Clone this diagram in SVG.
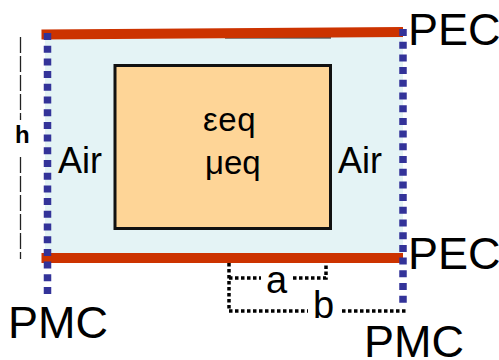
<svg xmlns="http://www.w3.org/2000/svg" width="499" height="360" viewBox="0 0 499 360">
<style>
text{font-family:"Liberation Sans",Arial,sans-serif;fill:#000}
.big{font-size:45px}
.mid{font-size:38px}
.air{font-size:36px}
.eq{font-size:33px}
.pec{stroke:#cc3300;stroke-width:10;fill:none}
.pmc{stroke:#333399;stroke-width:7.5;stroke-dasharray:7 5.7;fill:none}
.dim{stroke:#000;stroke-width:3.5;stroke-dasharray:3.5 2.5;fill:none}
.ref{stroke:#222;stroke-width:1.300;stroke-dasharray:16 3;fill:none}
</style>
<g id="air-region"><rect x="45" y="35" width="358" height="223" fill="#e4f3f5"/></g>
<g id="core"><rect x="115" y="65.500" width="215.500" height="163" fill="#fed597" stroke="#111" stroke-width="3"/>
<text class="eq" x="203" y="131" letter-spacing="0.600">εeq</text>
<text class="eq" x="205" y="174">μeq</text></g>
<g id="connectors">
<path d="M225 37.800H331" stroke="#222" stroke-width="1.200" fill="none"/>
<path class="pec" d="M41.500 34.500L403 32"/>
<path class="pec" d="M41.500 258H403"/>
<path class="pmc" d="M47.500 33V295"/>
<path class="pmc" d="M403 29V303"/>
<path class="ref" d="M20.500 37V120"/>
<path class="ref" d="M20.500 157V259"/>
<path class="dim" d="M229 263V311H308"/>
<path class="dim" d="M229 278H261"/>
<path class="dim" d="M293 278H326V264"/>
<path class="dim" d="M342 311H406"/>
</g>
<g id="labels">
<text x="15" y="143" font-size="24" font-weight="bold">h</text>
<text class="air" x="58" y="173">Air</text>
<text class="air" x="338" y="173">Air</text>
<text class="big" x="408" y="45">PEC</text>
<text class="big" x="408" y="269">PEC</text>
<text class="big" x="8" y="338">PMC</text>
<text class="big" x="364" y="357">PMC</text>
<text class="mid" x="266" y="293">a</text>
<text class="mid" x="313" y="318">b</text>
</g>
</svg>
